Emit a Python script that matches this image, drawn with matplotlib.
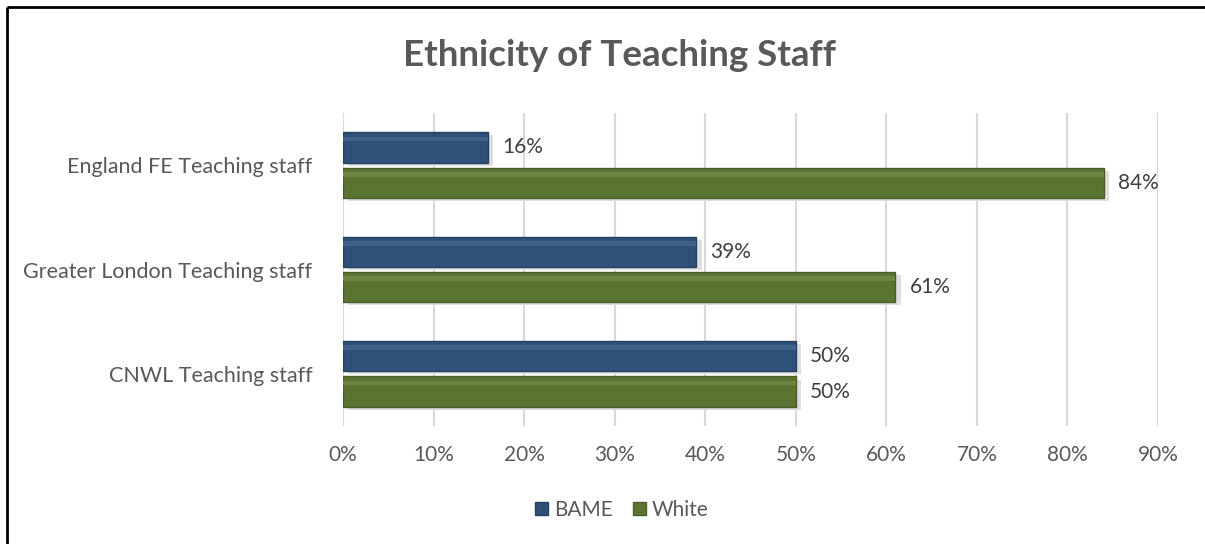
import matplotlib.pyplot as plt
from matplotlib.lines import Line2D
import numpy as np

categories = ["CNWL Teaching staff", "Greater London Teaching staff", "England FE Teaching staff"]
bame = [50, 39, 16]
white = [50, 61, 84]
xticks = [0, 10, 20, 30, 40, 50, 60, 70, 80, 90]

plt.rcParams['font.family'] = ['Lato', 'DejaVu Sans']

fig = plt.figure(figsize=(12.05, 5.44), dpi=100)
ax = fig.add_axes([343 / 1205, 1 - 426 / 544, (1158 - 343) / 1205, 313 / 544])

# outer chart border (only top and left edges show in the crop)
bx, by = 7 / 1205, 1 - 7 / 544
fig.lines.append(Line2D([bx, 1.02], [by, by], transform=fig.transFigure, color="black",
                        linewidth=2, solid_capstyle="butt"))
fig.lines.append(Line2D([bx, bx], [-0.02, by], transform=fig.transFigure, color="black",
                        linewidth=2, solid_capstyle="butt"))

y = np.arange(len(categories))
h = 0.29
off = 0.17
blue = "#2f5079"
green = "#5b7432"

# soft shadows under bars
ax.barh(y + off - 0.03, bame, height=h, left=0.6, color="#dedede", zorder=1)
ax.barh(y - off - 0.03, white, height=h, left=0.6, color="#dedede", zorder=1)

b1 = ax.barh(y + off, bame, height=h, color=blue, edgecolor="#26405f", linewidth=1, zorder=3, label="BAME")
b2 = ax.barh(y - off, white, height=h, color=green, edgecolor="#4a5e28", linewidth=1, zorder=3, label="White")

# subtle highlight for bevel look
ax.barh(y + off + h * 0.28, bame, height=h * 0.15, color="#3f6089", zorder=4)
ax.barh(y - off + h * 0.28, white, height=h * 0.15, color="#6c8641", zorder=4)

for yy, v in zip(y, bame):
    ax.text(v + 1.6, yy + off, f"{v}%", va="center", ha="left", fontsize=15, color="#404040")
for yy, v in zip(y, white):
    ax.text(v + 1.6, yy - off, f"{v}%", va="center", ha="left", fontsize=15, color="#404040")

ax.set_xlim(0, 90)
ax.set_ylim(-0.5, 2.5)
ax.set_xticks(xticks)
ax.set_xticklabels([f"{t}%" for t in xticks], fontsize=15, color="#595959")
ax.set_yticks(y)
ax.set_yticklabels(categories, fontsize=15.5, color="#595959")
ax.tick_params(axis="y", length=0, pad=22)
ax.tick_params(axis="x", length=0, pad=14)
ax.grid(axis="x", color="#d9d9d9", linewidth=1.5, zorder=0)
ax.set_axisbelow(True)
for s in ax.spines.values():
    s.set_visible(False)

fig.text(620 / 1205, 1 - 56 / 544, "Ethnicity of Teaching Staff", ha="center", va="center",
         fontsize=26.5, fontweight="bold", color="#595959")

fig.legend(handles=[b1, b2], labels=["BAME", "White"], loc="center",
           bbox_to_anchor=(622 / 1205, 1 - 510 / 544), ncol=2, frameon=False,
           fontsize=15, handlelength=0.6, handleheight=0.6, handletextpad=0.3,
           columnspacing=1.0, labelcolor="#595959")

fig.savefig("out.png", dpi=100)
